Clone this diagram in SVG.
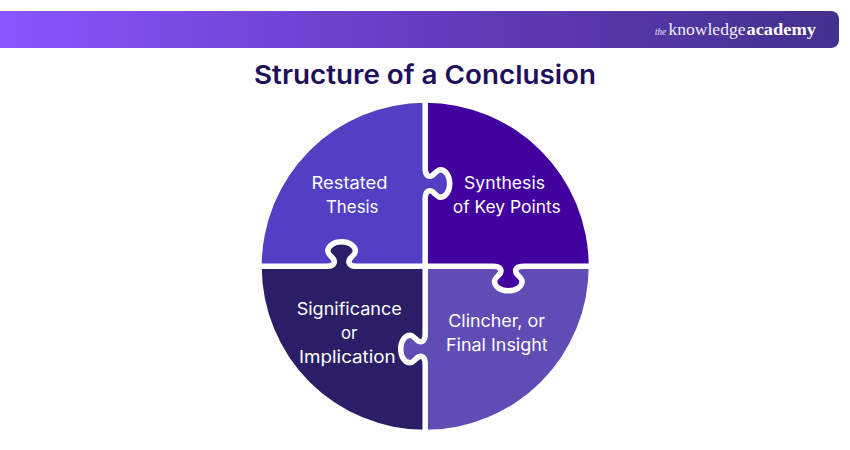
<svg xmlns="http://www.w3.org/2000/svg" width="850" height="450" viewBox="0 0 850 450">
<style>
.lbl{font-family:"Inter","Noto Sans","Liberation Sans",sans-serif;font-size:17px;fill:#fff}
.seam{fill:none;stroke:#fff;stroke-width:5.5}
.title{font-family:"Inter","Liberation Sans",sans-serif;font-size:26px;font-weight:600;fill:#1f0f5c}
.logo{font-family:"Liberation Serif",serif;fill:#fff}
</style>
<defs>
<linearGradient id="hdr" x1="0" y1="0" x2="1" y2="0">
<stop offset="0" stop-color="#8a55ff"/>
<stop offset="0.5" stop-color="#653dc0"/>
<stop offset="1" stop-color="#44308d"/>
</linearGradient>
</defs>
<rect width="850" height="450" fill="#fff"/>
<g id="header">
<path d="M0 11H831a8 8 0 0 1 8 8V40a8 8 0 0 1 -8 8H0Z" fill="url(#hdr)"/>
<text class="logo" x="655" y="35" font-size="11" font-style="italic" opacity="0.85" textLength="11" lengthAdjust="spacingAndGlyphs">the</text>
<text class="logo" x="668.5" y="35" font-size="17" opacity="0.92" textLength="77" lengthAdjust="spacingAndGlyphs">knowledge</text>
<text class="logo" x="746.5" y="35" font-size="17" font-weight="700" textLength="69.5" lengthAdjust="spacingAndGlyphs">academy</text>
</g>
<text class="title" x="254" y="84" textLength="342" lengthAdjust="spacingAndGlyphs">Structure of a Conclusion</text>
<g id="restated-thesis">
<path fill="#523fc4" d="M261.7 266.3A163.5 163.5 0 0 1 425.2 102.8V167.9c0,7.5 3,9.5 7,7.6c3,-2.4 5.5,-5.8 8,-5.8c5.5,0 9.5,6.2 9.5,13.8c0,7.6 -4,13.8 -9.5,13.8c-2.5,0 -5,-3.4 -8,-5.8c-4,-1.9 -7,0.1 -7,7.6V266.3H357.2c-7.5,0 -9.5,-3 -7.6,-7c2.4,-3 5.8,-5.5 5.8,-8c0,-5.5 -6.2,-9.5 -13.8,-9.5c-7.6,0 -13.8,4 -13.8,9.5c0,2.5 3.4,5 5.8,8c1.9,4 -0.1,7 -7.6,7Z"/>
<text class="lbl" x="311.5" y="189" textLength="76" lengthAdjust="spacingAndGlyphs">Restated</text>
<text class="lbl" x="326" y="213" textLength="52.5" lengthAdjust="spacingAndGlyphs">Thesis</text>
</g>
<g id="synthesis">
<path fill="#42009e" d="M425.2 102.8A163.5 163.5 0 0 1 588.7 266.3H523.9c-7.5,0 -9.5,3 -7.6,7c2.4,3 5.8,5.5 5.8,8c0,5.5 -6.2,9.5 -13.8,9.5c-7.6,0 -13.8,-4 -13.8,-9.5c0,-2.5 3.4,-5 5.8,-8c1.9,-4 -0.1,-7 -7.6,-7H425.2V199.1c0,-7.5 3,-9.5 7,-7.6c3,2.4 5.5,5.8 8,5.8c5.5,0 9.5,-6.2 9.5,-13.8c0,-7.6 -4,-13.8 -9.5,-13.8c-2.5,0 -5,3.4 -8,5.8c-4,1.9 -7,-0.1 -7,-7.6Z"/>
<text class="lbl" x="464" y="189" textLength="81" lengthAdjust="spacingAndGlyphs">Synthesis</text>
<text class="lbl" x="452.7" y="213" textLength="108" lengthAdjust="spacingAndGlyphs">of Key Points</text>
</g>
<g id="clincher">
<path fill="#614bb4" d="M588.7 266.3A163.5 163.5 0 0 1 425.2 429.8V364.6c0,-7.5 -3,-9.5 -7,-7.6c-3,2.4 -5.5,5.8 -8,5.8c-5.5,0 -9.5,-6.2 -9.5,-13.8c0,-7.6 4,-13.8 9.5,-13.8c2.5,0 5,3.4 8,5.8c4,1.9 7,-0.1 7,-7.6V266.3H492.7c7.5,0 9.5,3 7.6,7c-2.4,3 -5.8,5.5 -5.8,8c0,5.5 6.2,9.5 13.8,9.5c7.6,0 13.8,-4 13.8,-9.5c0,-2.5 -3.4,-5 -5.8,-8c-1.9,-4 0.1,-7 7.6,-7Z"/>
<text class="lbl" x="448.3" y="327" textLength="96.7" lengthAdjust="spacingAndGlyphs">Clincher, or</text>
<text class="lbl" x="446" y="351" textLength="101.7" lengthAdjust="spacingAndGlyphs">Final Insight</text>
</g>
<g id="significance">
<path fill="#2b1e66" d="M425.2 429.8A163.5 163.5 0 0 1 261.7 266.3H326c7.5,0 9.5,-3 7.6,-7c-2.4,-3 -5.8,-5.5 -5.8,-8c0,-5.5 6.2,-9.5 13.8,-9.5c7.6,0 13.8,4 13.8,9.5c0,2.5 -3.4,5 -5.8,8c-1.9,4 0.1,7 7.6,7H425.2V333.4c0,7.5 -3,9.5 -7,7.6c-3,-2.4 -5.5,-5.8 -8,-5.8c-5.5,0 -9.5,6.2 -9.5,13.8c0,7.6 4,13.8 9.5,13.8c2.5,0 5,-3.4 8,-5.8c4,-1.9 7,0.1 7,7.6Z"/>
<text class="lbl" x="296.7" y="315" textLength="105" lengthAdjust="spacingAndGlyphs">Significance</text>
<text class="lbl" x="341" y="339" textLength="16.3" lengthAdjust="spacingAndGlyphs">or</text>
<text class="lbl" x="299" y="363" textLength="96.7" lengthAdjust="spacingAndGlyphs">Implication</text>
</g>
<g id="connectors">
<path class="seam" d="M425.2 100V167.9c0,7.5 3,9.5 7,7.6c3,-2.4 5.5,-5.8 8,-5.8c5.5,0 9.5,6.2 9.5,13.8c0,7.6 -4,13.8 -9.5,13.8c-2.5,0 -5,-3.4 -8,-5.8c-4,-1.9 -7,0.1 -7,7.6V333.4c0,7.5 -3,9.5 -7,7.6c-3,-2.4 -5.5,-5.8 -8,-5.8c-5.5,0 -9.5,6.2 -9.5,13.8c0,7.6 4,13.8 9.5,13.8c2.5,0 5,-3.4 8,-5.8c4,-1.9 7,0.1 7,7.6V433"/>
<path class="seam" d="M258 266.3H326c7.5,0 9.5,-3 7.6,-7c-2.4,-3 -5.8,-5.5 -5.8,-8c0,-5.5 6.2,-9.5 13.8,-9.5c7.6,0 13.8,4 13.8,9.5c0,2.5 -3.4,5 -5.8,8c-1.9,4 0.1,7 7.6,7H492.7c7.5,0 9.5,3 7.6,7c-2.4,3 -5.8,5.5 -5.8,8c0,5.5 6.2,9.5 13.8,9.5c7.6,0 13.8,-4 13.8,-9.5c0,-2.5 -3.4,-5 -5.8,-8c-1.9,-4 0.1,-7 7.6,-7H592"/>
</g>
</svg>
